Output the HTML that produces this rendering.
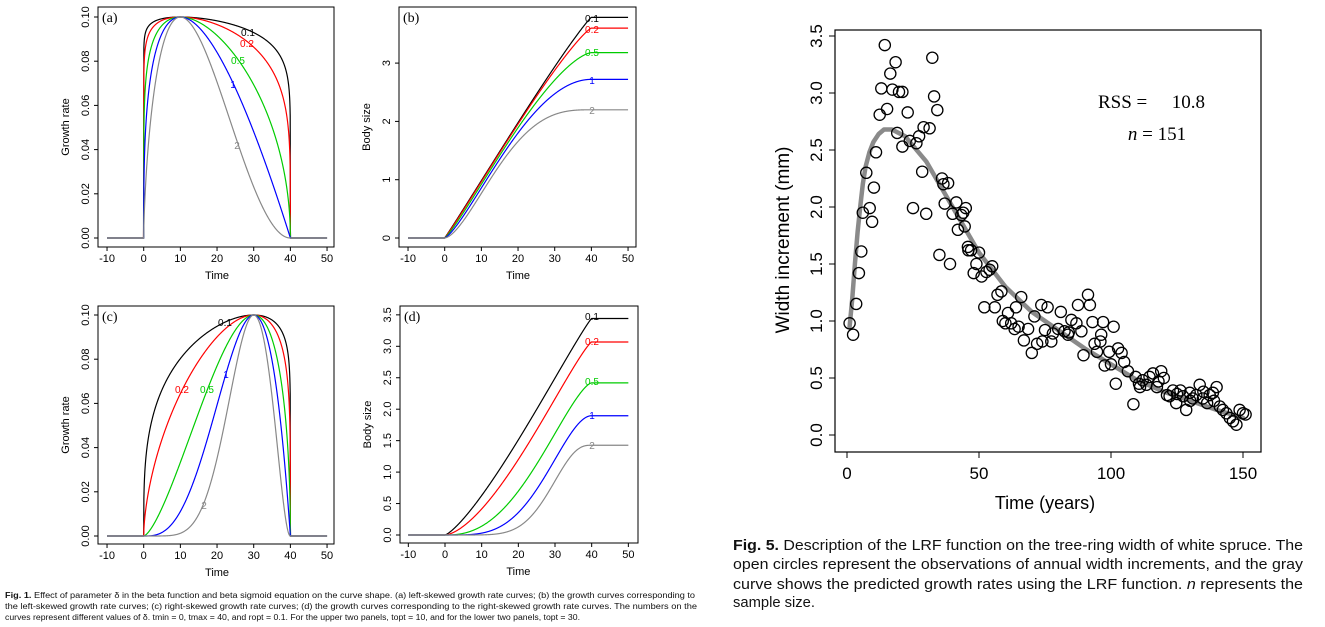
<!DOCTYPE html>
<html><head><meta charset="utf-8"><style>
html,body{margin:0;padding:0;background:#fff;}
svg{display:block;font-family:"Liberation Sans",sans-serif;}
</style></head><body>
<svg id="s" width="1325" height="627" viewBox="0 0 1325 627" xmlns="http://www.w3.org/2000/svg">
<g id="g"></g>
<g font-family="'Liberation Sans Narrow','Liberation Sans',sans-serif" font-size="8" fill="#111">
<text x="5" y="598" textLength="690" lengthAdjust="spacingAndGlyphs"><tspan font-weight="bold">Fig. 1.</tspan> Effect of parameter δ in the beta function and beta sigmoid equation on the curve shape. (a) left-skewed growth rate curves; (b) the growth curves corresponding to</text>
<text x="5" y="609" textLength="692" lengthAdjust="spacingAndGlyphs">the left-skewed growth rate curves; (c) right-skewed growth rate curves; (d) the growth curves corresponding to the right-skewed growth rate curves. The numbers on the</text>
<text x="5" y="620" textLength="575" lengthAdjust="spacingAndGlyphs">curves represent different values of δ. tmin = 0, tmax = 40, and ropt = 0.1. For the upper two panels, topt = 10, and for the lower two panels, topt = 30.</text>
</g>
<g font-family="'Liberation Sans Narrow','Liberation Sans',sans-serif" font-size="15" fill="#111">
<text x="733" y="550" textLength="570" lengthAdjust="spacingAndGlyphs"><tspan font-weight="bold">Fig. 5.</tspan> Description of the LRF function on the tree-ring width of white spruce. The</text>
<text x="733" y="569" textLength="570" lengthAdjust="spacingAndGlyphs">open circles represent the observations of annual width increments, and the gray</text>
<text x="733" y="589" textLength="570" lengthAdjust="spacingAndGlyphs">curve shows the predicted growth rates using the LRF function. <tspan font-style="italic">n</tspan> represents the</text>
<text x="733" y="607" font-size="15" textLength="82" lengthAdjust="spacingAndGlyphs">sample size.</text>
</g>
</svg>
<script>
const NS="http://www.w3.org/2000/svg";
const G=document.getElementById('g');
function el(t,a,txt){const e=document.createElementNS(NS,t);for(const k in a)e.setAttribute(k,a[k]);if(txt!==undefined)e.textContent=txt;G.appendChild(e);return e;}
const cols={0.1:'#000',0.2:'#f00',0.5:'#0c0',1:'#00f',2:'#888'};
const ds=[0.1,0.2,0.5,1,2];
function rate(t,topt,d){if(t<=0||t>=40)return 0;const e=(topt)/(40-topt);return 0.1*Math.pow(((40-t)/(40-topt))*Math.pow(t/topt,e),d);}
function panel(o){
 el('rect',{x:o.bx0,y:o.by0,width:o.bx1-o.bx0,height:o.by1-o.by0,fill:'none',stroke:'#000','stroke-width':1});
 const X=t=>o.x0+o.xs*t, Y=v=>o.y0-o.ys*v;
 for(let t=-10;t<=50;t+=10){el('line',{x1:X(t),x2:X(t),y1:o.by1,y2:o.by1+4,stroke:'#000'});
  el('text',{x:X(t),y:o.by1+15,'font-size':11,'text-anchor':'middle'},String(t));}
 el('text',{x:(X(-10)+X(50))/2,y:o.by1+32,'font-size':11,'text-anchor':'middle'},'Time');
 o.yt.forEach(v=>{const y=Y(v);el('line',{x1:o.bx0,x2:o.bx0-4,y1:y,y2:y,stroke:'#000'});
  el('text',{x:0,y:0,'font-size':11,'text-anchor':'middle',transform:`translate(${o.bx0-9},${y}) rotate(-90)`},o.fmt(v));});
 el('text',{x:0,y:0,'font-size':11,'text-anchor':'middle',transform:`translate(${o.bx0-29},${(o.by0+o.by1)/2}) rotate(-90)`},o.yl);
 el('text',{x:o.bx0+4,y:o.by0+15,'font-size':14,'font-family':"'Liberation Serif',serif"},o.lab);
 ds.forEach(d=>{let p=[],acc=0,dt=0.05;
  for(let t=-10;t<=50.001;t+=dt){const r=rate(t,o.topt,d);
   if(o.cum){acc+=r*dt;p.push([X(t),Y(acc)]);}else p.push([X(t),Y(r)]);}
  el('path',{d:'M'+p.map(q=>q[0].toFixed(2)+','+q[1].toFixed(2)).join('L'),fill:'none',stroke:cols[d],'stroke-width':1.2});
 });
 o.labs.forEach(l=>el('text',{x:l[1],y:l[2],'font-size':10,fill:cols[l[0]],'text-anchor':'middle'},String(l[0])));
}
const f2=v=>v.toFixed(2), f1=v=>v.toFixed(1), f0=v=>String(v);
panel({bx0:98,bx1:334,by0:7,by1:247,x0:143.7,xs:3.667,y0:238,ys:2210,topt:10,cum:false,yt:[0,.02,.04,.06,.08,.1],fmt:f2,yl:'Growth rate',lab:'(a)',
 labs:[[0.1,248,36],[0.2,247,47],[0.5,238,64],[1,233,88],[2,237,149]]});
panel({bx0:399,bx1:636,by0:7,by1:247,x0:444.7,xs:3.667,y0:238,ys:58.3,topt:10,cum:true,yt:[0,1,2,3],fmt:f0,yl:'Body size',lab:'(b)',
 labs:[[0.1,592,22],[0.2,592,33],[0.5,592,56],[1,592,84],[2,592,114]]});
panel({bx0:98,bx1:334,by0:306,by1:544,x0:143.7,xs:3.667,y0:536,ys:2210,topt:30,cum:false,yt:[0,.02,.04,.06,.08,.1],fmt:f2,yl:'Growth rate',lab:'(c)',
 labs:[[0.1,225,326],[0.2,182,393],[0.5,207,393],[1,226,378],[2,204,509]]});
panel({bx0:400,bx1:638,by0:306,by1:543,x0:445,xs:3.667,y0:535,ys:62.9,topt:30,cum:true,yt:[0,.5,1,1.5,2,2.5,3,3.5],fmt:f1,yl:'Body size',lab:'(d)',
 labs:[[0.1,592,320],[0.2,592,345],[0.5,592,385],[1,592,419],[2,592,449]]});

const RX=t=>847+t*396/150, RY=v=>435-v*399/3.5;
el('rect',{x:835,y:30,width:426,height:422,fill:'none',stroke:'#000','stroke-width':1.2});
[0,50,100,150].forEach(t=>{el('line',{x1:RX(t),x2:RX(t),y1:452,y2:458,stroke:'#000'});
 el('text',{x:RX(t),y:479,'font-size':17,'text-anchor':'middle'},String(t));});
el('text',{x:1045,y:509,'font-size':18,'text-anchor':'middle'},'Time (years)');
[0,.5,1,1.5,2,2.5,3,3.5].forEach(v=>{const y=RY(v);el('line',{x1:835,x2:829,y1:y,y2:y,stroke:'#000'});
 el('text',{x:0,y:0,'font-size':17,'text-anchor':'middle',transform:`translate(${822},${y}) rotate(-90)`},v.toFixed(1));});
el('text',{x:0,y:0,'font-size':19,'text-anchor':'middle',transform:`translate(789,240) rotate(-90)`},'Width increment (mm)');
const cv=[[1,0.95],[2,1.2],[3,1.5],[4,1.78],[5,2.0],[6,2.2],[7,2.35],[8.5,2.48],[10,2.57],[12,2.64],[14,2.68],[17,2.68],[22,2.62],[30,2.4],[40,2.0],[50,1.6],[60,1.3],[70,1.08],[80,0.92],[90,0.76],[100,0.62],[110,0.48],[120,0.38],[130,0.3],[140,0.22],[150,0.15]];
el('path',{d:'M'+cv.map(q=>RX(q[0]).toFixed(1)+','+RY(q[1]).toFixed(1)).join('L'),fill:'none',stroke:'#8a8a8a','stroke-width':4.5,'stroke-linejoin':'round','stroke-linecap':'round'});
const pts=[[1,0.98],[2.3,0.88],[3.5,1.15],[4.5,1.42],[5.4,1.61],[6,1.95],[7.3,2.3],[8.6,1.99],[9.5,1.87],[10.2,2.17],[11,2.48],[12.4,2.81],[13,3.04],[14.3,3.42],[15.2,2.86],[16.4,3.17],[17.2,3.03],[18.4,3.27],[19,2.65],[19.7,3.01],[21,3.01],[21,2.53],[23,2.83],[23.8,2.58],[25,1.99],[26.3,2.56],[27.3,2.62],[28.5,2.31],[29,2.7],[30,1.94],[31.3,2.69],[32.3,3.31],[33,2.97],[34.2,2.85],[35,1.58],[36,2.25],[37,2.03],[38.3,2.21],[39,1.5],[40,1.94],[41.4,2.04],[42,1.8],[43.3,1.93],[45,1.99],[44.6,1.83],[45.8,1.65],[47,1.62],[48,1.42],[49,1.5],[50,1.6],[51,1.39],[52,1.12],[52.8,1.43],[54,1.45],[55,1.48],[56,1.12],[57,1.23],[58.5,1.26],[60,0.98],[61,1.07],[62.2,0.98],[63.5,0.93],[64,1.12],[66,1.21],[67,0.83],[68.6,0.93],[70,0.72],[71,1.04],[72,0.8],[73.6,1.14],[75,0.92],[76,1.12],[77.4,0.82],[78,0.89],[80,0.93],[81,1.08],[82.4,0.91],[83.7,0.88],[85,1.01],[86.9,0.98],[87.5,1.14],[88.8,0.91],[89.6,0.7],[91.3,1.23],[92,1.14],[93,0.99],[93.8,0.8],[94.7,0.73],[96.3,0.88],[97,0.99],[97.6,0.61],[99.3,0.73],[101,0.95],[101.8,0.45],[102.7,0.76],[104,0.72],[105,0.64],[106.4,0.56],[108.5,0.27],[109.3,0.51],[110.6,0.45],[112,0.48],[113.4,0.44],[114.6,0.51],[115.9,0.54],[117.4,0.42],[119,0.56],[120,0.5],[121.2,0.35],[122.2,0.34],[123.5,0.39],[124.7,0.28],[126.3,0.39],[127.3,0.34],[128.5,0.22],[129.8,0.37],[131,0.32],[132.3,0.35],[133.6,0.44],[134.8,0.32],[136.4,0.28],[137.4,0.35],[138.6,0.37],[140,0.42],[141.2,0.25],[142.4,0.22],[143.7,0.19],[145,0.15],[146.2,0.12],[147.5,0.09],[148.7,0.22],[150,0.19],[151,0.18],[125,0.36],[130,0.3],[135,0.38],[139,0.3],[118,0.47],[111,0.42],[100,0.62],[96,0.82],[84,0.9],[74,0.82],[65,0.95],[59,1.0],[46,1.62],[36.5,2.2],[44,1.95]];
pts.forEach(p=>el('circle',{cx:RX(p[0]).toFixed(1),cy:RY(p[1]).toFixed(1),r:5.6,fill:'none',stroke:'#000','stroke-width':1.3}));
el('text',{x:1098,y:108,'font-size':19,'font-family':"'Liberation Serif',serif"},'RSS =');
el('text',{x:1205,y:108,'font-size':19,'font-family':"'Liberation Serif',serif",'text-anchor':'end'},'10.8');
const t2=el('text',{x:1157,y:140,'font-size':19,'font-family':"'Liberation Serif',serif",'text-anchor':'middle'});
t2.innerHTML='<tspan font-style="italic">n</tspan> = 151';
</script>
</body></html>
